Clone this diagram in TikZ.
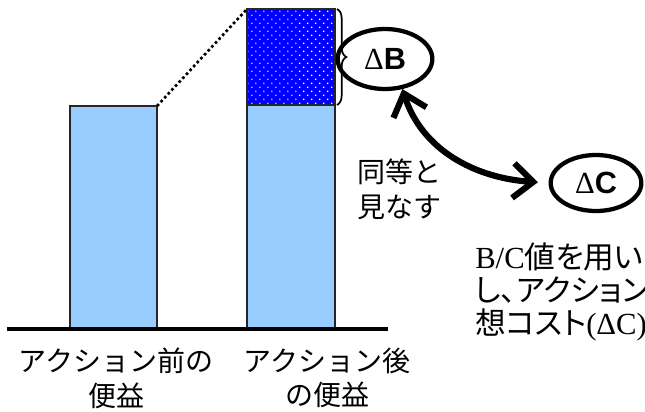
\documentclass[tikz,border=0pt]{standalone}
\usepackage{fontspec}
\setmainfont{Liberation Serif}
\newfontfamily\jp{Noto Sans CJK JP}
\newfontfamily\jpp{Noto Sans CJK JP}[RawFeature=+palt]
\newfontfamily\hv{Liberation Sans}
\usetikzlibrary{arrows.meta,patterns.meta,decorations.pathreplacing,shapes.geometric,positioning}
\definecolor{barblue}{HTML}{99CCFF}
\definecolor{gainblue}{HTML}{0000FF}

\begin{document}
\begin{tikzpicture}[x=0.75pt, y=-0.75pt,
    bar/.style={draw=black!85, line width=2pt},
    delta/.style={ellipse, draw, line width=3.2pt, inner sep=0pt, minimum width=71pt, minimum height=45pt, font=\fontsize{23}{26}\selectfont},
    jtext/.style={font=\jp\fontsize{21}{26}\selectfont, align=center, inner sep=0pt},
    barb/.tip={Straight Barb[length=15pt, width=26pt]}]
    \useasboundingbox (0,0) rectangle (645,411);
    % bars before / after
    \draw[bar, fill=barblue] (70,329) rectangle (157,106);
    \coordinate (topA) at (157,106);
    \draw[bar, fill=barblue] (247,329) rectangle (335,105);
    \fill[gainblue] (247,105) rectangle (335,9);
    \fill[pattern={Dots[distance=4.24pt, angle=45, radius=0.6pt]}, pattern color=white] (247,105) rectangle (335,9);
    \draw[bar] (247,105) rectangle (335,9);
    \coordinate (topB) at (247,9);
    \draw[line width=2.4pt] (7,329) -- (388,329);
    \draw[line width=2pt, dotted] (topA) -- (topB);
    \draw[decorate, decoration={brace, amplitude=7pt}, line width=1.3pt] (337,9) -- (337,105);
    % delta nodes
    \node[delta] (dB) at (385,59) {Δ{\hv\bfseries B}};
    \node[delta, minimum width=68pt, minimum height=42pt] (dC) at (596,183) {Δ{\hv\bfseries C}};
    \draw[line width=4.6pt, barb-barb, shorten >=8pt] (dB.-60) .. controls (422,150) and (475,178) .. (dC.west);
    % texts
    \node[jtext, anchor=west, align=left] (same) at (357,189) {同等と\\見なす};
    \node[jtext, anchor=north west, align=left, font=\jpp\fontsize{23}{25}\selectfont] (note) at (475,242) {{\rmfamily B/C}値を用い\\し、アクション\\想コスト{\rmfamily(ΔC)}};
    \node[jtext] (before) at (116,378) {アクション前の\\便益};
    \node[jtext] (after) at (327,378) {アクション後\\の便益};
\end{tikzpicture}
\end{document}
